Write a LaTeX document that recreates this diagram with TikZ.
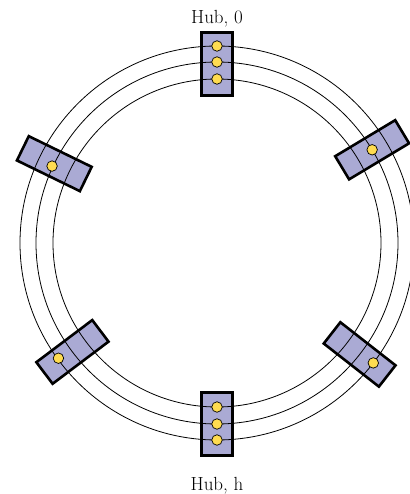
\documentclass[tikz,border=0pt]{standalone}
\usepackage{fontspec}
\usepackage{tikz}
\usetikzlibrary{shapes,positioning}
\definecolor{hubblue}{RGB}{170,170,212}
\definecolor{dotyellow}{RGB}{255,220,80}

\tikzset{
    hubbox/.style={draw=black, line width=2.6pt, fill=hubblue, inner sep=0pt},
    ringline/.style={draw=black, line width=0.8pt},
    hubdot/.style={circle, draw=black, line width=0.7pt, fill=dotyellow, minimum size=10.5pt, inner sep=0pt},
    hublabel/.style={font=\fontsize{19}{22}\selectfont, inner sep=2pt}
}

\begin{document}
\begin{tikzpicture}[x=1pt, y=1pt]
        \useasboundingbox (-217,-251) rectangle (192,243);
        % hubs on the rings
        \node[hubbox, minimum width=63pt, minimum height=31pt, rotate=90] (hub0) at (90:179) {};
        \node[hubbox, minimum width=63pt, minimum height=31pt, rotate=270] (hubh) at (270:181) {};
        \foreach \ang/\name in {31/hubA, 154/hubB, 217/hubC, 322/hubD}
            \node[hubbox, minimum width=70pt, minimum height=27pt, rotate=\ang] (\name) at (\ang:181) {};
        % the three rings
        \draw[ringline] (0,0) circle (164);
        \draw[ringline] (0,0) circle (181);
        \draw[ringline] (0,0) circle (197);
        % stations
        \foreach \r/\i in {164/1, 181/2, 197/3} {
            \node[hubdot] (top\i) at (90:\r) {};
            \node[hubdot] (bot\i) at (270:\r) {};
        }
        \node[hubdot] (dotA) at (31:181) {};
        \node[hubdot] (dotB) at (155:182) {};
        \node[hubdot] (dotC) at (216:196) {};
        \node[hubdot] (dotD) at (322.5:197) {};
        % labels
        \node[hublabel, above=2pt of hub0.east] (lab0) {Hub, 0};
        \node[hublabel, below=18pt of hubh.east] (labh) {Hub, h};
    \end{tikzpicture}
\end{document}
